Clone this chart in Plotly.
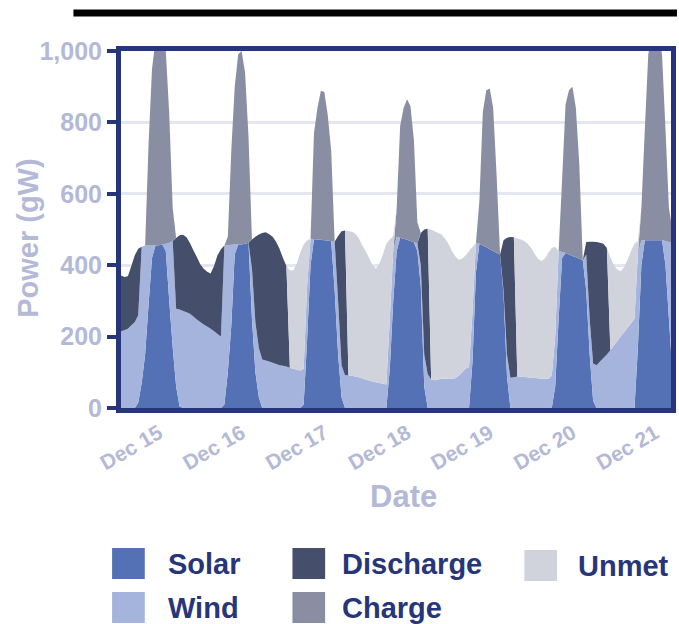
import pandas as pd
import plotly.graph_objects as go

# Hourly generation mix, Dec 14 12:00 -> Dec 21 05:00 (gW)
times = pd.date_range("2023-12-14 12:00", periods=162, freq="h")

solar = [
    0, 0, 0, 0, 0, 0, 15, 70, 150, 290, 420, 455, 456, 458, 440, 300, 170, 60, 5, 0, 0, 0, 0, 0,
    0, 0, 0, 0, 0, 0, 0, 10, 100, 230, 430, 458, 458, 460, 463, 250, 100, 30, 0, 0, 0, 0, 0, 0,
    0, 0, 0, 0, 0, 0, 10, 190, 400, 473, 472, 471, 470, 469, 467, 330, 150, 30, 0, 0, 0, 0, 0, 0,
    0, 0, 0, 0, 0, 0, 0, 110, 300, 440, 477, 474, 471, 468, 464, 440, 340, 60, 0, 0, 0, 0, 0, 0,
    0, 0, 0, 0, 0, 0, 0, 130, 380, 460, 455, 450, 445, 440, 435, 430, 320, 90, 0, 0, 0, 0, 0, 0,
    0, 0, 0, 0, 0, 0, 0, 60, 250, 420, 434, 430, 426, 422, 418, 414, 330, 150, 20, 0, 0, 0, 0, 0,
    0, 0, 0, 0, 0, 0, 0, 170, 400, 470, 470, 470, 470, 470, 470, 400, 250, 100,
]

wind = [
    213, 215, 218, 222, 232, 240, 245, 382, 305, 165, 35, 0, 0, 0, 20, 163, 298, 218, 271, 272, 268, 264, 256, 248,
    241, 234, 228, 222, 215, 207, 200, 445, 356, 227, 28, 0, 0, 0, 0, 140, 140, 138, 136, 133, 130, 127, 123, 120,
    118, 116, 113, 110, 107, 105, 100, 150, 74, 0, 0, 0, 0, 0, 0, 136, 150, 90, 92, 92, 90, 88, 86, 83,
    80, 77, 74, 72, 70, 68, 66, 140, 140, 40, 0, 0, 0, 0, 0, 21, 60, 90, 95, 80, 78, 80, 82, 82,
    82, 82, 83, 90, 100, 110, 115, 140, 82, 0, 0, 0, 0, 0, 0, 0, 10, 60, 85, 86, 88, 88, 87, 86,
    85, 84, 83, 82, 82, 82, 90, 140, 190, 17, 0, 0, 0, 0, 0, 0, 100, 100, 105, 120, 130, 140, 150, 162,
    175, 187, 200, 212, 225, 237, 250, 262, 70, 0, 0, 0, 0, 0, 0, 68, 215, 365,
]

discharge = [
    165, 156, 149, 147, 166, 188, 186, 0, 0, 0, 0, 0, 0, 0, 0, 0, 0, 198, 208, 213, 210, 198, 186, 175,
    162, 156, 154, 155, 183, 221, 245, 0, 0, 0, 0, 0, 0, 0, 0, 82, 240, 318, 354, 359, 357, 353, 343, 326,
    302, 282, 0, 0, 0, 0, 0, 0, 0, 0, 0, 0, 0, 0, 0, 0, 182, 375, 405, 0, 0, 0, 0, 0,
    0, 0, 0, 0, 0, 0, 0, 0, 0, 0, 0, 0, 0, 0, 0, 0, 90, 350, 407, 0, 0, 0, 0, 0,
    0, 0, 0, 0, 0, 0, 0, 0, 0, 0, 0, 0, 0, 0, 0, 0, 140, 327, 394, 392, 0, 0, 0, 0,
    0, 0, 0, 0, 0, 0, 0, 0, 0, 0, 0, 0, 0, 0, 0, 0, 35, 216, 341, 345, 333, 320, 298, 0,
    0, 0, 0, 0, 0, 0, 0, 0, 0, 0, 0, 0, 0, 0, 0, 0, 0, 0,
]

charge = [
    0, 0, 0, 0, 0, 0, 0, 0, 0, 285, 495, 575, 644, 612, 540, 360, 92, 0, 0, 0, 0, 0, 0, 0,
    0, 0, 0, 0, 0, 0, 0, 0, 24, 263, 442, 532, 542, 480, 297, 0, 0, 0, 0, 0, 0, 0, 0, 0,
    0, 0, 0, 0, 0, 0, 0, 0, 0, 297, 368, 418, 415, 351, 253, 0, 0, 0, 0, 0, 0, 0, 0, 0,
    0, 0, 0, 0, 0, 0, 0, 0, 0, 80, 313, 366, 394, 377, 286, 59, 0, 0, 0, 0, 0, 0, 0, 0,
    0, 0, 0, 0, 0, 0, 0, 0, 0, 120, 375, 440, 450, 400, 215, 0, 0, 0, 0, 0, 0, 0, 0, 0,
    0, 0, 0, 0, 0, 0, 0, 0, 0, 203, 416, 460, 474, 418, 262, 0, 0, 0, 0, 0, 0, 0, 0, 0,
    0, 0, 0, 0, 0, 0, 0, 0, 90, 310, 520, 580, 630, 580, 520, 312, 95, 35,
]

unmet = [
    0, 0, 0, 0, 0, 0, 0, 0, 0, 0, 0, 0, 0, 0, 0, 0, 0, 0, 0, 0, 0, 0, 0, 0,
    0, 0, 0, 0, 0, 0, 0, 0, 0, 0, 0, 0, 0, 0, 0, 0, 0, 0, 0, 0, 0, 0, 0, 0,
    0, 0, 273, 275, 298, 330, 348, 129, 0, 0, 0, 0, 0, 0, 0, 0, 0, 0, 0, 404, 404, 400, 390, 372,
    360, 343, 326, 318, 335, 362, 394, 222, 42, 0, 0, 0, 0, 0, 0, 0, 0, 0, 0, 420, 417, 410, 404, 393,
    378, 358, 342, 325, 318, 318, 325, 182, 0, 0, 0, 0, 0, 0, 0, 0, 0, 0, 0, 0, 387, 384, 381, 374,
    363, 348, 335, 330, 336, 353, 358, 252, 0, 0, 0, 0, 0, 0, 0, 0, 0, 0, 0, 0, 0, 0, 0, 260,
    225, 201, 183, 183, 190, 203, 210, 36, 0, 0, 0, 0, 0, 0, 0, 0, 0, 0,
]

series_names = ["Solar", "Wind", "Discharge", "Charge", "Unmet"]
series_values = [solar, wind, discharge, charge, unmet]
series_colors = ["#5571b5", "#a4b4dd", "#454e6a", "#898ea3", "#d0d3dc"]

day_ticks = pd.date_range("2023-12-15", "2023-12-21", freq="D")
y_ticks = [0, 200, 400, 600, 800, 1000]

FONT = "Liberation Sans"
NAVY = "#27357a"
LAVENDER = "#b3b9d6"

# canvas / plot-area geometry in pixels
W, H = 679, 624
L, R, T, B = 121, 676, 51, 408


def px_x(px):
    return (px - L) / (R - L)


def px_y(py):
    return (B - py) / (B - T)


fig = go.Figure()
for name, vals, col in zip(series_names, series_values, series_colors):
    fig.add_trace(go.Scatter(
        x=times, y=vals, name=name, stackgroup="mix", mode="none",
        fillcolor=col, line=dict(width=0), showlegend=False,
    ))

fig.update_layout(
    width=W, height=H,
    margin=dict(l=L, r=W - R, t=T, b=H - B),
    plot_bgcolor="white", paper_bgcolor="white",
    showlegend=False,
    xaxis=dict(
        type="date",
        range=["2023-12-14 13:00", "2023-12-21 04:36"],
        tickvals=list(day_ticks), tickformat="%b %d", tickangle=-30,
        tickfont=dict(family=FONT, size=21, color=LAVENDER, weight="bold"),
        showline=True, linecolor=NAVY, linewidth=5, mirror=True,
        showgrid=False, ticks="", zeroline=False,
    ),
    yaxis=dict(
        range=[0, 1000], tickvals=y_ticks, tickformat=",",
        tickfont=dict(family=FONT, size=25, color=LAVENDER, weight="bold"),
        showline=True, linecolor=NAVY, linewidth=5, mirror=True,
        ticks="outside", ticklen=9, tickwidth=4, tickcolor=NAVY,
        showgrid=True, gridcolor="#e4e6f0", gridwidth=3, zeroline=False,
    ),
)

# heavy rule above the chart
fig.add_shape(type="rect", xref="paper", yref="paper",
              x0=px_x(73), x1=px_x(682), y0=px_y(16.5), y1=px_y(9.5),
              fillcolor="black", line=dict(width=0), layer="above")

# axis titles
fig.add_annotation(text="Power (gW)", xref="paper", yref="paper",
                   x=px_x(27), y=px_y(238), xanchor="center", yanchor="middle",
                   textangle=-90, showarrow=False,
                   font=dict(family=FONT, size=29, color=LAVENDER, weight="bold"))
fig.add_annotation(text="Date", xref="paper", yref="paper",
                   x=px_x(406), y=px_y(496), xanchor="center", yanchor="middle",
                   showarrow=False,
                   font=dict(family=FONT, size=31, color=LAVENDER, weight="bold"))

# legend: swatch + label, three columns
legend_items = [
    ("Solar", 0, 112, 166, 548),
    ("Wind", 1, 112, 166, 592),
    ("Discharge", 2, 294, 342, 548),
    ("Charge", 3, 294, 342, 592),
    ("Unmet", 4, 528, 580, 550),
]
for label, idx, sx, tx, sy in legend_items:
    fig.add_shape(type="rect", xref="paper", yref="paper",
                  x0=px_x(sx), x1=px_x(sx + 33), y0=px_y(sy + 31), y1=px_y(sy),
                  fillcolor=series_colors[idx], line=dict(width=0))
    fig.add_annotation(text=label, xref="paper", yref="paper",
                       x=px_x(tx), y=px_y(sy + 16), xanchor="left", yanchor="middle",
                       showarrow=False,
                       font=dict(family=FONT, size=29, color=NAVY, weight="bold"))

fig.write_html("out.html")
